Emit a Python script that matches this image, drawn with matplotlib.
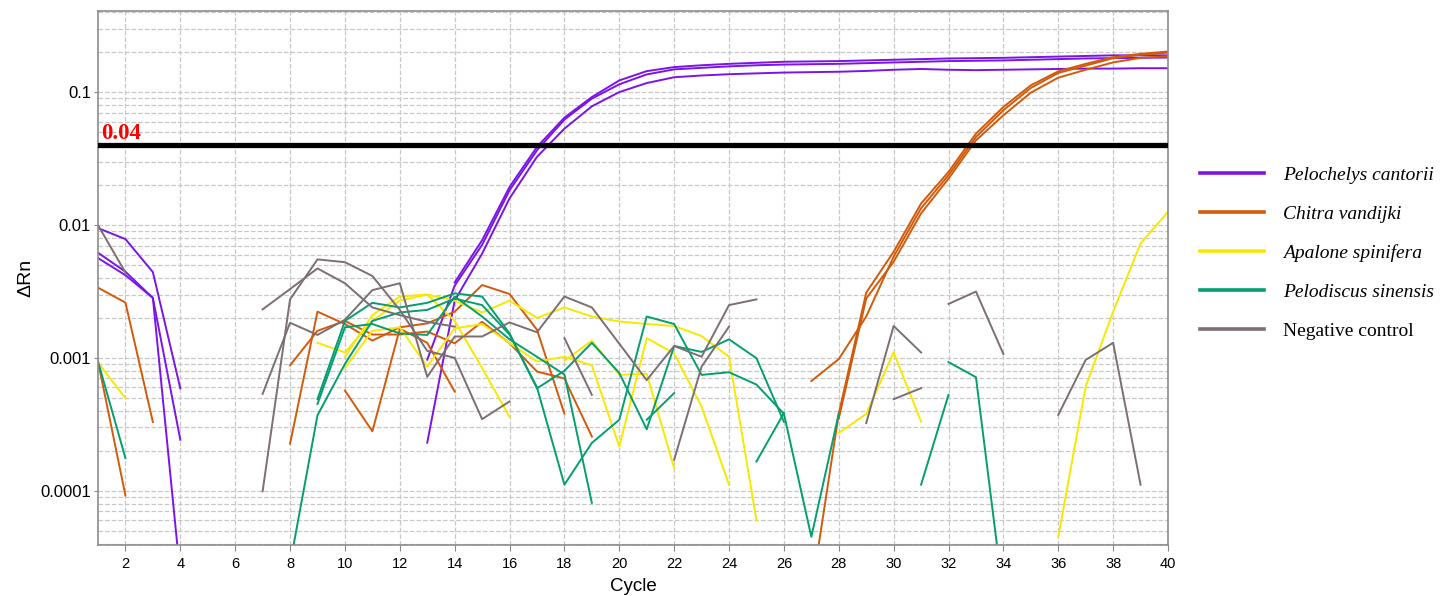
import numpy as np
import matplotlib
matplotlib.use("Agg")
import matplotlib.pyplot as plt
from matplotlib.lines import Line2D
from matplotlib.ticker import LogLocator, FixedLocator, FixedFormatter, NullFormatter

n = np.nan
cycles = np.arange(1, 41)
threshold = 0.04

# Pelochelys cantorii
pc1 = [0.0095, 0.00785, 0.00443, 0.00059] + [n] * 9 + \
      [0.0037, 0.0077, 0.0194, 0.0388, 0.0645, 0.0922, 0.123, 0.1445, 0.155,
       0.160, 0.164, 0.167, 0.170, 0.171, 0.172, 0.174, 0.176, 0.178, 0.180,
       0.181, 0.182, 0.184, 0.186, 0.188, 0.190, 0.190, 0.190]
pc2 = [0.0062, 0.00446, 0.00283, 0.000242] + [n] * 8 + \
      [0.00097, 0.0035, 0.0071, 0.0183, 0.0366, 0.0624, 0.0897, 0.115, 0.1365, 0.149,
       0.153, 0.157, 0.160, 0.162, 0.163, 0.164, 0.166, 0.168, 0.170, 0.172,
       0.173, 0.174, 0.176, 0.178, 0.180, 0.181, 0.182, 0.183]
pc3 = [0.00565, 0.0042, 0.00283, 2.3e-5] + [n] * 8 + \
      [0.00023, 0.0027, 0.0061, 0.0159, 0.0327, 0.0533, 0.0785, 0.1005, 0.1175, 0.130,
       0.134, 0.137, 0.139, 0.141, 0.142, 0.143, 0.145, 0.148, 0.150, 0.148,
       0.147, 0.148, 0.149, 0.150, 0.151, 0.151, 0.152, 0.152]

# Chitra vandijki
cv1 = [0.00338, 0.00261, 0.000329] + [n] * 4 + \
      [0.000226, 0.00223, 0.0018, 0.00135, 0.0017, 0.00182, 0.00223, 0.00354, 0.00303,
       0.00163, 0.00038] + [n] * 8 + \
      [0.00067, 0.00098, 0.00205, 0.0058, 0.0134, 0.0238, 0.0461, 0.0733, 0.108,
       0.14, 0.159, 0.181, 0.192, 0.199]
cv2 = [0.00094, 9.2e-5] + [n] * 5 + \
      [0.00088, 0.0016, 0.0019, 0.0015, 0.0015, 0.00158, 0.00129, 0.00187, 0.00129,
       0.00079, 0.0007, 0.000256] + [n] * 7 + \
      [1.7e-5, 0.00038, 0.0031, 0.0063, 0.01455, 0.0252, 0.0489, 0.0776, 0.113,
       0.144, 0.164, 0.184, 0.195, 0.203]
cv3 = [n] * 9 + [0.000568, 0.00028, 0.00166, 0.0013, 0.000558] + [n] * 13 + \
      [0.00035, 0.0028, 0.0053, 0.01226, 0.0224, 0.0435, 0.0672, 0.0995, 0.129,
       0.148, 0.168, 0.182, 0.187]

# Apalone spinifera
as1 = [0.00092, 0.000498] + [n] * 6 + \
      [0.0013, 0.0011, 0.0019, 0.0027, 0.003, 0.0027, 0.0022, 0.0027, 0.002, 0.0024,
       0.00205, 0.00188, 0.0018, 0.00174, 0.00146, 0.00102, 6e-5] + [n] * 2 + \
      [0.000272, 0.000379, 0.0011, 0.000332] + [n] * 4 + \
      [4.5e-5, 0.000608, 0.00223, 0.00728, 0.0126]
as2 = [n] * 9 + \
      [0.00084, 0.0016, 0.0017, 0.00086, 0.00167, 0.0018, 0.00129, 0.00094, 0.00102,
       0.00088, 0.000215, 0.00141, 0.00108, 0.00043, 0.000111] + [n] * 16
as3 = [n] * 9 + [0.00102, 0.0021, 0.0029, 0.003, 0.0019, 0.00084, 0.00036] + [n] + \
      [0.00095, 0.00135, 0.000745, 0.00076, 0.000148] + [n] * 18

# Pelodiscus sinensis
ps1 = [0.00094, 0.000176] + [n] * 6 + \
      [0.00049, 0.0019, 0.0026, 0.0024, 0.0026, 0.00306, 0.0029, 0.00153, 0.00059,
       0.0008, 0.0013, 0.00077, 0.00029, 0.00123, 0.00111, 0.00138, 0.000995,
       0.00033] + [n] * 4 + [0.000111, 0.000527] + [n] * 8
ps2 = [n] * 8 + \
      [0.00045, 0.0017, 0.0018, 0.00153, 0.00149, 0.0029, 0.00205, 0.00138, 0.00102,
       0.00075, 8.1e-5] + [n] + [0.000342, 0.000543] + [n] * 2 + \
      [0.000166, 0.000384] + [n] * 5 + [0.00093, 0.000716, 1.6e-5] + [n] * 6
ps3 = [n] * 7 + \
      [2.8e-5, 0.00037, 0.0009, 0.0019, 0.0022, 0.0023, 0.0028, 0.0025, 0.0015, 0.0006,
       0.000111, 0.000229, 0.000342, 0.00205, 0.0018, 0.000745, 0.00078, 0.00063,
       0.00038, 4.5e-5, 0.00038] + [n] * 12

# Negative control
nc1 = [0.01, 0.0044] + [n] * 4 + \
      [0.00232, 0.0033, 0.00472, 0.00365, 0.0024, 0.0021, 0.00187, 0.00172] + [n] * 3 + \
      [0.00141, 0.000527] + [n] * 2 + [0.000171, 0.00086, 0.00172] + [n] * 4 + \
      [0.000323, 0.00174, 0.0011] + [n] * 4 + [0.000372, 0.000966, 0.0013, 0.000111] + [n]
nc2 = [n] * 6 + \
      [9.9e-5, 0.00276, 0.00552, 0.00526, 0.00414, 0.0023, 0.00113, 0.001, 0.000346,
       0.00047] + [n] * 15 + [0.00255, 0.00316, 0.00107] + [n] * 6
nc3 = [n] * 6 + \
      [0.000536, 0.00184, 0.00149, 0.00194, 0.00324, 0.00365, 0.00072, 0.00145, 0.00145,
       0.00185, 0.00156, 0.0029, 0.0024, 0.00128, 0.00068, 0.00123, 0.00102, 0.0025,
       0.00276] + [n] * 4 + [0.000489, 0.000592] + [n] * 9

labels = ["Pelochelys cantorii", "Chitra vandijki", "Apalone spinifera",
          "Pelodiscus sinensis", "Negative control"]
colors = ["#7B14E6", "#D35A0A", "#F8E800", "#049E70", "#7C6E72"]
groups = [[pc1, pc2, pc3], [cv1, cv2, cv3], [as1, as2, as3],
          [ps1, ps2, ps3], [nc1, nc2, nc3]]

fig = plt.figure(figsize=(14.46, 5.96), dpi=100)
ax = fig.add_axes([98 / 1446, 1 - 545 / 596, 1070 / 1446, 534 / 596])

for reps, col in zip(groups, colors):
    for r in reps:
        ax.plot(cycles, r, color=col, lw=1.4)

ax.axhline(threshold, color="black", lw=3.8, zorder=10)
ax.text(1.1, threshold * 1.025, "0.04", color="red", fontsize=16.5, fontweight="bold",
        family="Liberation Serif", va="bottom", ha="left")

ax.set_yscale("log")
ax.set_ylim(3.9e-5, 0.41)
ax.set_xlim(1, 40)
ax.set_xticks(np.arange(2, 41, 2))
ax.yaxis.set_major_locator(FixedLocator([0.0001, 0.001, 0.01, 0.1]))
ax.yaxis.set_major_formatter(FixedFormatter(["0.0001", "0.001", "0.01", "0.1"]))
ax.yaxis.set_minor_locator(LogLocator(base=10, subs=np.arange(2, 10)))
ax.yaxis.set_minor_formatter(NullFormatter())
ax.tick_params(axis="y", which="minor", length=0)
ax.tick_params(axis="both", which="major", color="#888888", length=4)
ax.tick_params(axis="y", labelsize=12, length=3, pad=2)
ax.tick_params(axis="x", labelsize=10.5, pad=5)
for lab in ax.get_xticklabels() + ax.get_yticklabels():
    lab.set_family("Liberation Sans")

ax.grid(True, which="major", axis="both", ls="--", color="#c8c8c8", lw=0.9)
ax.grid(True, which="minor", axis="y", ls="--", color="#c8c8c8", lw=0.9)
ax.set_axisbelow(True)
for s in ax.spines.values():
    s.set_color("#8c8c8c")
    s.set_linewidth(1.2)

ax.set_xlabel("Cycle", fontsize=13.5, family="Liberation Sans", labelpad=5)
ax.set_ylabel("ΔRn", fontsize=14, family="Liberation Sans", labelpad=4)

handles = [Line2D([0], [0], color=c, lw=2.6) for c in colors]
leg = fig.legend(handles, labels, loc="center left", bbox_to_anchor=(1182 / 1446, 1 - 253 / 596),
                 frameon=False, handlelength=3.3, handletextpad=1.0, labelspacing=1.1,
                 prop={"family": "Liberation Serif", "size": 14})
for t in leg.get_texts()[:4]:
    t.set_style("italic")

fig.savefig("out.png", dpi=100)
